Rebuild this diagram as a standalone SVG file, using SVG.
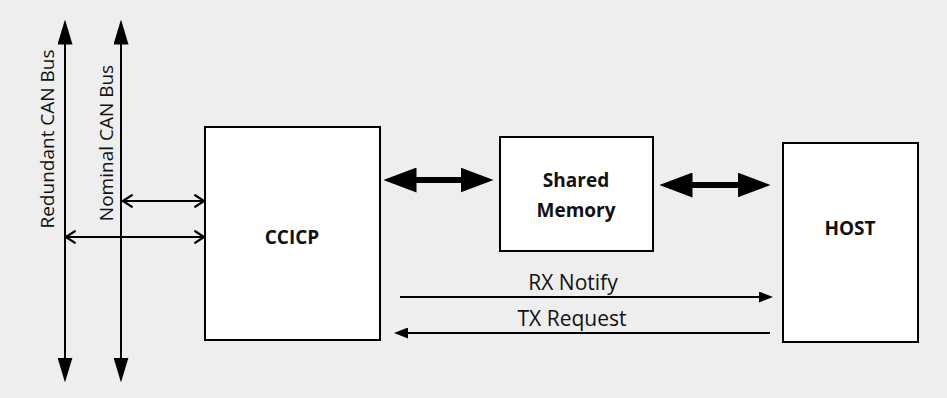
<svg xmlns="http://www.w3.org/2000/svg" width="947" height="398" viewBox="0 0 947 398">
<defs>
<style>
.box{fill:#fff;stroke:#000;stroke-width:2}
.t{font-family:"Open Sans","Liberation Sans",sans-serif;fill:#111}
.b{font-weight:bold;font-size:19px}
.l{font-size:19px}
.m{font-size:21px}
.thin{stroke:#000;stroke-width:2;fill:none}
.thick{stroke:#000;stroke-width:6;fill:none}
</style>
<marker id="bus" viewBox="0 0 10 10" refX="5" refY="5" markerWidth="25" markerHeight="15" markerUnits="userSpaceOnUse" orient="auto-start-reverse" preserveAspectRatio="none"><path d="M0,0 L10,5 L0,10 Z" fill="#000"/></marker>
<marker id="big" viewBox="0 0 10 10" refX="5" refY="5" markerWidth="33" markerHeight="25" markerUnits="userSpaceOnUse" orient="auto-start-reverse" preserveAspectRatio="none"><path d="M0,0 L10,5 L0,10 Z" fill="#000"/></marker>
<marker id="open" viewBox="0 0 10 10" refX="9" refY="5" markerWidth="12" markerHeight="14" markerUnits="userSpaceOnUse" orient="auto-start-reverse" preserveAspectRatio="none"><path d="M1,0.5 L9,5 L1,9.5" fill="none" stroke="#000" stroke-width="1.6"/></marker>
<marker id="sm" viewBox="0 0 10 10" refX="5" refY="5" markerWidth="14" markerHeight="11" markerUnits="userSpaceOnUse" orient="auto-start-reverse" preserveAspectRatio="none"><path d="M0,0 L10,5 L0,10 Z" fill="#000"/></marker>
</defs>
<rect width="947" height="398" fill="#eeeeee"/>
<g id="ccicp"><rect class="box" x="205" y="127" width="175" height="213"/><text class="t b" x="292" y="244" text-anchor="middle">CCICP</text></g>
<g id="shared-memory"><rect class="box" x="500" y="137" width="153" height="114"/><text class="t b" x="576" y="187" text-anchor="middle">Shared</text><text class="t b" x="576" y="217" text-anchor="middle">Memory</text></g>
<g id="host"><rect class="box" x="783" y="143" width="135" height="199"/><text class="t b" x="850" y="235" text-anchor="middle">HOST</text></g>
<g id="redundant-bus"><text class="t l" transform="translate(54,139) rotate(-90)" text-anchor="middle">Redundant CAN Bus</text></g>
<g id="nominal-bus"><text class="t l" transform="translate(113,143) rotate(-90)" text-anchor="middle">Nominal CAN Bus</text></g>
<g id="connectors">
<line class="thin" x1="65" y1="32" x2="65" y2="370" stroke-width="2.5" marker-start="url(#bus)" marker-end="url(#bus)"/>
<line class="thin" x1="121" y1="32" x2="121" y2="370" stroke-width="2.5" marker-start="url(#bus)" marker-end="url(#bus)"/>
<line class="thin" x1="123" y1="201" x2="204" y2="201" marker-start="url(#open)" marker-end="url(#open)"/>
<line class="thin" x1="66" y1="237" x2="204" y2="237" marker-start="url(#open)" marker-end="url(#open)"/>
<line class="thick" x1="400" y1="180" x2="477" y2="180" marker-start="url(#big)" marker-end="url(#big)"/>
<line class="thick" x1="676" y1="185" x2="754" y2="185" marker-start="url(#big)" marker-end="url(#big)"/>
<line class="thin" x1="400" y1="297" x2="766" y2="297" stroke-width="1.5" marker-end="url(#sm)"/>
<line class="thin" x1="770" y1="333" x2="401" y2="333" stroke-width="1.5" marker-end="url(#sm)"/>
<text class="t m" x="573" y="290" text-anchor="middle">RX Notify</text>
<text class="t m" x="572" y="326" text-anchor="middle">TX Request</text>
</g>
</svg>
